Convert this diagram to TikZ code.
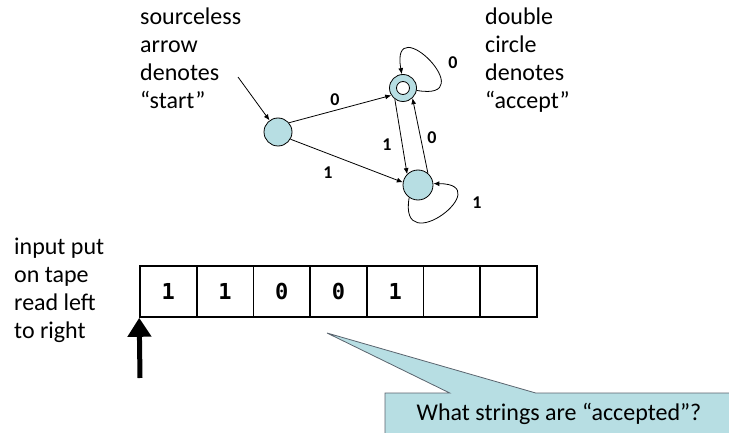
\documentclass[tikz,border=0pt]{standalone}
\usepackage{fontspec}
\setmainfont{Carlito}
\newfontfamily\tapefont{DejaVu Sans Mono}
\usetikzlibrary{arrows.meta,shapes.callouts}
\definecolor{stblue}{RGB}{183,222,227}
\definecolor{callgray}{RGB}{90,100,110}

\begin{document}
\begin{tikzpicture}[x=1pt,y=1pt,
  state/.style={circle,draw,fill=stblue,inner sep=0pt,minimum size=28pt,line width=0.8pt},
  trans/.style={-{Latex[length=6pt,width=5pt]},line width=0.8pt},
  lbl/.style={font=\fontsize{18}{20}\selectfont\bfseries},
  note/.style={font=\fontsize{24}{28}\selectfont,align=left,anchor=base west,inner sep=0pt},
  cell/.style={draw,line width=1.6pt,minimum width=56.7pt,minimum height=51pt,inner sep=0pt,font=\tapefont\bfseries\fontsize{22}{24}\selectfont}]
\useasboundingbox (0,0) rectangle (729,-433);
\clip (0,0) rectangle (729,-433);

% automaton
\node[state] (st) at (278,-132) {};
\node[state,minimum size=27pt] (acc) at (403,-88) {};
\node[circle,draw,fill=white,inner sep=0pt,minimum size=13pt,line width=0.8pt] (acci) at (acc) {};
\node[state,minimum size=30pt] (bot) at (418,-185) {};
\coordinate (src) at (238,-77);
\draw[trans] (src) -- (st);
\draw[trans] (st.40) -- (acc.212);
\draw[trans] (st.-30) -- (bot.170);
\draw[trans] (acc.234) -- (bot.135);
\draw[trans] (bot.50) -- (acc.-47);
\draw[trans] (acc.-10) to[out=-10,in=100,looseness=8] (acc.95);
\draw[trans] (bot.235) to[out=260,in=0,looseness=6] (bot.5);
\node[lbl] (l0a) at (335,-100) {0};
\node[lbl] (l1a) at (328,-173) {1};
\node[lbl] (l1b) at (387,-145) {1};
\node[lbl] (l0b) at (432,-138) {0};
\node[lbl] (l0c) at (453,-63) {0};
\node[lbl] (l1c) at (477,-203) {1};

% notes (anchored at the last line)
\node[note] (srcnote) at (140,-109) {sourceless\\arrow\\denotes\\“start”};
\node[note] (accnote) at (485,-109) {double\\circle\\denotes\\“accept”};
\node[note] (tapenote) at (14,-338) {input put\\on tape\\read left\\to right};

% tape
\node[cell] (c1) at (168.35,-291.5) {1};
\node[cell] (c2) at (225.05,-291.5) {1};
\node[cell] (c3) at (281.75,-291.5) {0};
\node[cell] (c4) at (338.45,-291.5) {0};
\node[cell] (c5) at (395.15,-291.5) {1};
\node[cell] (c6) at (451.85,-291.5) {};
\node[cell] (c7) at (508.55,-291.5) {};
\coordinate (head) at (140,-378);
\draw[-{Triangle[width=23pt,length=19pt]},line width=5pt] (head) -- (c1.south west);

% question
\coordinate (tip) at (327,-333);
\node[rectangle callout,callout absolute pointer={(tip)},callout pointer width=86pt,
  draw=callgray,fill=stblue,line width=0.8pt,minimum width=348pt,minimum height=48pt,
  text height=17pt,text depth=11pt,font=\fontsize{24}{28}\selectfont] (ask) at (559,-417) {What strings are “accepted”?};
\end{tikzpicture}
\end{document}
